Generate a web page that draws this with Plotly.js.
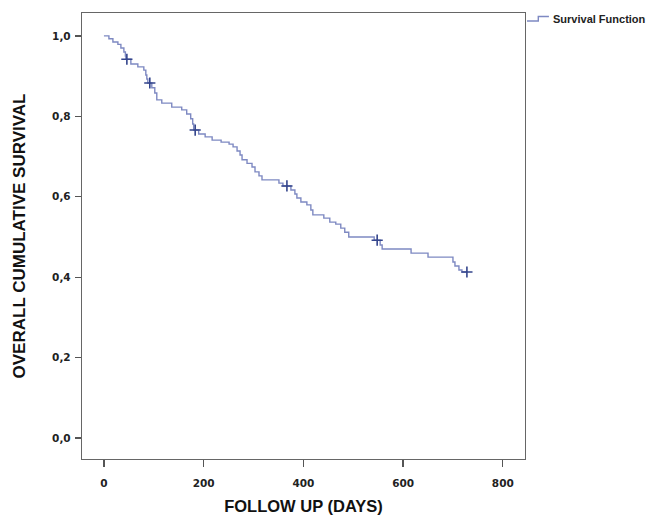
<!DOCTYPE html>
<html>
<head>
<meta charset="utf-8">
<script src="https://cdn.plot.ly/plotly-3.0.1.min.js"></script>
<style>html,body{margin:0;padding:0;background:#fff;}#chart{width:646px;height:515px;}</style>
</head>
<body>
<div id="chart"></div>
<script>
// Kaplan-Meier step curve: event times (days) and survival after each event
const eventDays = [0, 10, 18, 28, 34, 40, 43, 44, 54, 68, 80, 84, 86, 88, 96, 102, 106, 116, 136, 156, 166, 174, 178, 180,
  190, 203, 217, 235, 251, 259, 267, 273, 277, 287, 297, 303, 311, 317, 351, 359, 375, 383, 387, 395, 407, 415, 419,
  441, 453, 465, 475, 483, 491, 542, 554, 558, 616, 650, 700, 704, 712, 718, 728];
const survival = [1.000, 0.993, 0.985, 0.979, 0.970, 0.960, 0.950, 0.942, 0.930, 0.923, 0.915, 0.903, 0.893, 0.883, 0.871, 0.858, 0.841, 0.833, 0.823, 0.816, 0.806, 0.794, 0.781, 0.766,
  0.756, 0.749, 0.741, 0.736, 0.731, 0.724, 0.714, 0.704, 0.692, 0.683, 0.674, 0.662, 0.652, 0.642, 0.634, 0.627, 0.617, 0.607, 0.597, 0.587, 0.580, 0.567, 0.555,
  0.547, 0.537, 0.532, 0.522, 0.512, 0.500, 0.492, 0.480, 0.470, 0.460, 0.450, 0.438, 0.428, 0.418, 0.413, 0.413];
// Censored observations
const censorDays = [46, 92, 183, 367, 548, 728];
const censorSurv = [0.942, 0.883, 0.766, 0.627, 0.492, 0.413];

const xTickVals = [0, 200, 400, 600, 800];
const yTickVals = [0, 0.2, 0.4, 0.6, 0.8, 1.0];
const legendLabel = "Survival Function";

const tickFont = {family: "DejaVu Sans, sans-serif", size: 10.5, color: "#222", weight: "bold"};
const titleFontFamily = "Liberation Sans, Arial, sans-serif";

const traces = [
  {
    x: eventDays, y: survival, type: "scatter", mode: "lines", name: legendLabel,
    line: {shape: "hv", color: "#7e89c2", width: 1.4}, showlegend: false, hoverinfo: "skip"
  },
  {
    x: censorDays, y: censorSurv, type: "scatter", mode: "markers", name: "Censored",
    marker: {symbol: "cross-thin", size: 8, line: {color: "#34458c", width: 1.6}, color: "#34458c"},
    showlegend: false, hoverinfo: "skip"
  }
];

const layout = {
  width: 646, height: 515,
  margin: {l: 82, r: 121, t: 13, b: 56},
  paper_bgcolor: "#fff", plot_bgcolor: "#fff",
  separators: ",.",
  showlegend: false,
  xaxis: {
    range: [-44, 844.5], tickvals: xTickVals, tickformat: "d",
    showline: true, mirror: true, linecolor: "#666", linewidth: 1.2,
    ticks: "outside", ticklen: 7, tickcolor: "#555", tickwidth: 1.2,
    showgrid: false, zeroline: false, ticklabelstandoff: 7,
    tickfont: tickFont,
    title: {text: "<b>FOLLOW UP (DAYS)</b>", font: {family: titleFontFamily, size: 16.5, color: "#111"}, standoff: 12}
  },
  yaxis: {
    range: [-0.052, 1.057], tickvals: yTickVals, tickformat: ".1f",
    showline: true, mirror: true, linecolor: "#666", linewidth: 1.2,
    ticks: "outside", ticklen: 6, tickcolor: "#555", tickwidth: 1.2,
    showgrid: false, zeroline: false, ticklabelstandoff: 2,
    tickfont: tickFont,
    title: {text: "<b>OVERALL CUMULATIVE SURVIVAL</b>", font: {family: titleFontFamily, size: 17, color: "#111"}, standoff: 22}
  },
  shapes: [
    {type: "path", xref: "paper", yref: "paper",
     path: "M 1.0045 0.982 L 1.030 0.982 L 1.030 0.992 L 1.054 0.992",
     line: {color: "#7e89c2", width: 1.4}}
  ],
  annotations: [
    {text: "<b>" + legendLabel + "</b>", xref: "paper", yref: "paper", x: 1.059, y: 0.9865,
     xanchor: "left", yanchor: "middle", showarrow: false,
     font: {family: titleFontFamily, size: 11, color: "#222"}}
  ]
};

Plotly.newPlot("chart", traces, layout, {displayModeBar: false, staticPlot: true});
</script>
</body>
</html>
